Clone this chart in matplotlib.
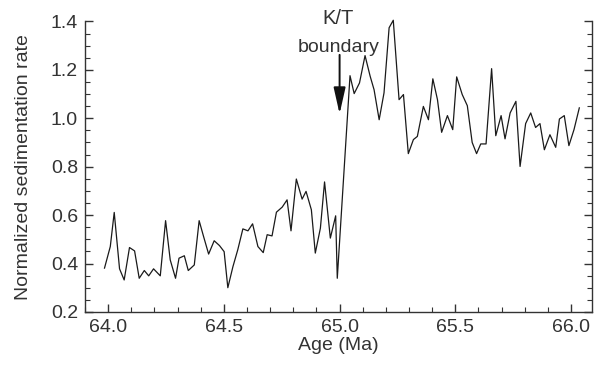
import numpy as np
import matplotlib
matplotlib.use("Agg")
import matplotlib.pyplot as plt
from matplotlib.ticker import MultipleLocator

plt.rcParams['font.family'] = ['Liberation Sans', 'DejaVu Sans']

age = [63.984, 64.009, 64.026, 64.049, 64.069, 64.092, 64.114, 64.134, 64.156, 64.175,
       64.196, 64.225, 64.248, 64.268, 64.291, 64.306, 64.329, 64.346, 64.372, 64.393,
       64.412, 64.434, 64.458, 64.481, 64.501, 64.517, 64.539, 64.560, 64.582, 64.604,
       64.624, 64.647, 64.670, 64.687, 64.708, 64.727, 64.752, 64.773, 64.790, 64.813,
       64.838, 64.855, 64.878, 64.895, 64.917, 64.935, 64.960, 64.983, 64.990, 65.045,
       65.063, 65.086, 65.110, 65.132, 65.149, 65.171, 65.192, 65.214, 65.232, 65.257,
       65.276, 65.297, 65.319, 65.336, 65.362, 65.384, 65.403, 65.423, 65.441, 65.466,
       65.489, 65.506, 65.530, 65.552, 65.573, 65.592, 65.610, 65.633, 65.657, 65.675,
       65.698, 65.715, 65.737, 65.762, 65.780, 65.804, 65.826, 65.847, 65.866, 65.885,
       65.909, 65.934, 65.950, 65.971, 65.991, 66.013, 66.036]
rate = [0.381, 0.470, 0.611, 0.378, 0.332, 0.466, 0.452, 0.339, 0.371, 0.349,
        0.378, 0.349, 0.577, 0.415, 0.339, 0.422, 0.432, 0.371, 0.394, 0.577,
        0.512, 0.439, 0.494, 0.474, 0.449, 0.300, 0.387, 0.457, 0.543, 0.535,
        0.564, 0.470, 0.445, 0.519, 0.514, 0.612, 0.633, 0.663, 0.535, 0.749,
        0.666, 0.698, 0.622, 0.443, 0.546, 0.737, 0.505, 0.597, 0.339, 1.176,
        1.102, 1.146, 1.259, 1.174, 1.118, 0.994, 1.105, 1.374, 1.405, 1.077,
        1.098, 0.854, 0.912, 0.925, 1.049, 0.994, 1.163, 1.077, 0.942, 1.011,
        0.953, 1.171, 1.098, 1.052, 0.900, 0.854, 0.894, 0.894, 1.205, 0.928,
        1.011, 0.915, 1.022, 1.070, 0.801, 0.978, 1.022, 0.962, 0.978, 0.870,
        0.932, 0.880, 0.997, 1.011, 0.887, 0.953, 1.043]

kt_age = 65.0
fs = 14

fig = plt.figure(figsize=(6.12, 3.70), dpi=100)
ax = fig.add_axes([0.139, 0.157, 0.828, 0.785])

ax.plot(age, rate, color='#1a1a1a', linewidth=0.9, clip_on=False)

ax.set_xlim(63.9, 66.09)
ax.set_ylim(0.2, 1.4)
ax.xaxis.set_major_locator(MultipleLocator(0.5))
ax.xaxis.set_minor_locator(MultipleLocator(0.1))
ax.yaxis.set_major_locator(MultipleLocator(0.2))
ax.yaxis.set_minor_locator(MultipleLocator(0.05))
ax.xaxis.set_major_formatter(plt.FormatStrFormatter('%.1f'))
ax.yaxis.set_major_formatter(plt.FormatStrFormatter('%.1f'))

ax.spines['top'].set_visible(False)
for s in ['left', 'right', 'bottom']:
    ax.spines[s].set_color('#333333')
    ax.spines[s].set_linewidth(1.0)

ax.tick_params(which='both', direction='in', right=True, top=False,
               color='#333333', labelsize=fs, labelcolor='#333333')
ax.tick_params(which='major', length=6, width=1.0, pad=5)
ax.tick_params(which='minor', length=3.5, width=0.8)

ax.set_xlabel("Age (Ma)", fontsize=fs, color='#333333', labelpad=1)
ax.set_ylabel("Normalized sedimentation rate", fontsize=fs, color='#333333')
ax.yaxis.set_label_coords(-0.105, 0.5)

ax.annotate('', xy=(kt_age, 1.018), xytext=(kt_age, 1.262),
            arrowprops=dict(arrowstyle='-|>,head_length=0.8,head_width=0.18',
                            color='#111111', lw=1.4, mutation_scale=20,
                            shrinkA=0, shrinkB=0), annotation_clip=False)
ax.text(kt_age - 0.005, 1.388, "K/T", ha='center', va='baseline', fontsize=fs + 0.5,
        color='#333333', clip_on=False)
ax.text(kt_age - 0.005, 1.275, "boundary", ha='center', va='baseline', fontsize=fs,
        color='#333333', clip_on=False)

fig.savefig("out.png", dpi=100)
